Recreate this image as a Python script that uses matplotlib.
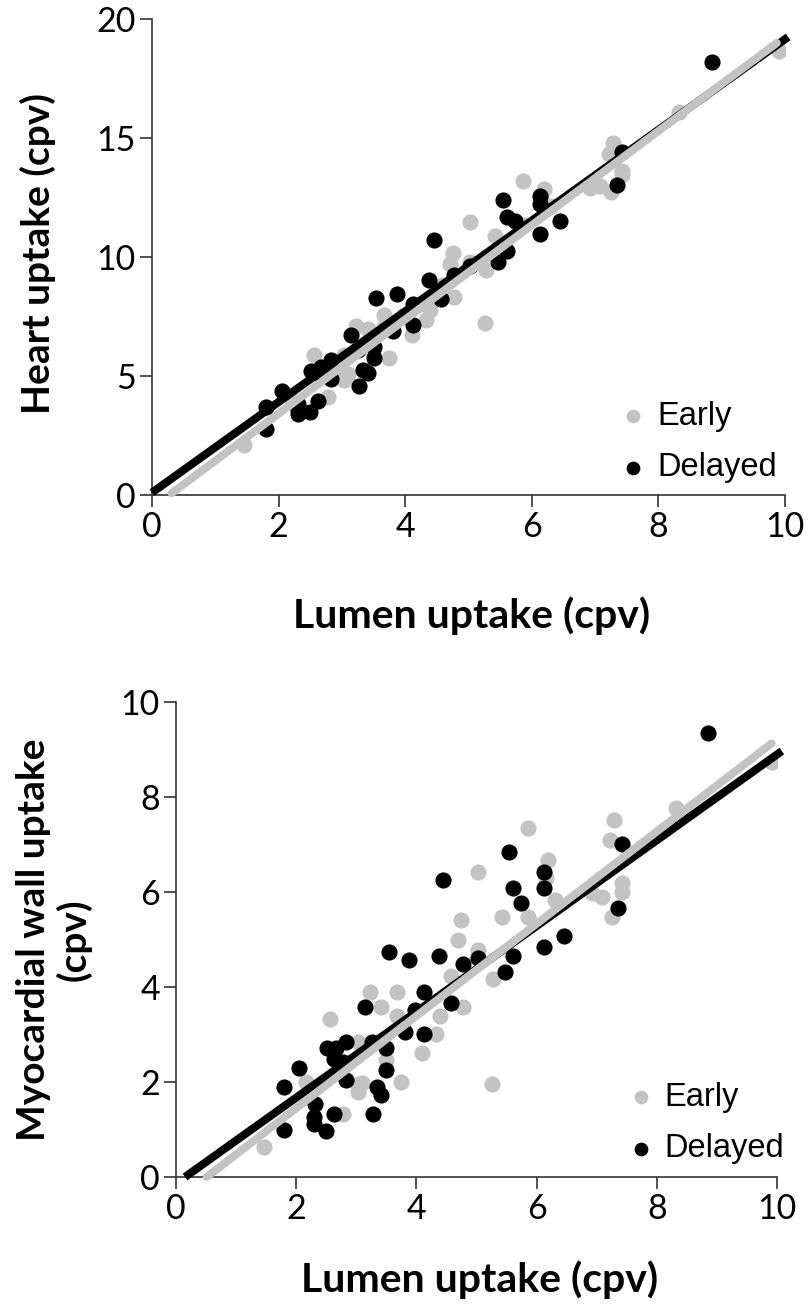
import numpy as np
import matplotlib.pyplot as plt

# lumen uptake (x) shared by both panels
early_lumen = [9.91, 8.32, 7.29, 7.22, 7.42, 7.42, 7.08, 6.92, 7.25, 5.86,
               5.03, 6.19, 6.15, 6.31, 5.42, 5.86, 4.75, 4.70, 5.03, 5.28,
               4.58, 3.22, 3.67, 3.41, 3.67, 4.77, 4.39, 2.56, 4.33, 3.03,
               3.49, 2.17, 3.03, 3.10, 3.03, 2.78, 1.46, 5.26, 4.10, 3.75]
early_heart = [18.65, 16.08, 14.81, 14.31, 13.60, 13.43, 12.98, 12.89, 12.73, 13.20,
               11.46, 12.86, 12.45, 12.14, 10.90, 11.34, 10.16, 9.69, 9.81, 9.44,
               8.82, 7.12, 7.57, 6.98, 7.07, 8.34, 7.79, 5.88, 7.34, 5.88,
               5.95, 4.18, 4.99, 5.07, 4.83, 4.10, 2.10, 7.21, 6.72, 5.75]
early_wall = [8.74, 7.76, 7.52, 7.09, 6.18, 6.01, 5.90, 5.97, 5.48, 7.34,
              6.43, 6.67, 6.30, 5.83, 5.48, 5.48, 5.41, 4.99, 4.78, 4.16,
              4.24, 3.90, 3.90, 3.57, 3.40, 3.57, 3.40, 3.32, 3.01, 2.85,
              2.46, 2.01, 1.96, 1.97, 1.80, 1.32, 0.64, 1.95, 2.62, 2.00]

delayed_lumen = [8.85, 7.42, 7.35, 6.45, 6.13, 6.13, 6.13, 5.54, 5.61, 5.74,
                 5.61, 5.47, 4.45, 5.03, 4.77, 4.38, 3.87, 3.54, 4.57, 4.12,
                 3.98, 3.14, 3.81, 4.12, 2.51, 2.67, 2.83, 3.26, 2.63, 2.78,
                 3.50, 3.50, 2.05, 2.83, 1.80, 3.34, 3.41, 2.31, 2.30, 2.30,
                 2.50, 2.63, 3.27, 1.80]
delayed_heart = [18.19, 14.43, 13.01, 11.52, 12.56, 12.21, 10.98, 12.38, 11.69, 11.50,
                 10.27, 9.79, 10.70, 9.64, 9.25, 9.04, 8.44, 8.28, 8.23, 8.02,
                 7.50, 6.71, 6.87, 7.13, 5.23, 5.38, 5.68, 6.11, 5.11, 5.21,
                 6.21, 5.75, 4.35, 4.87, 3.70, 5.24, 5.14, 3.84, 3.56, 3.42,
                 3.47, 3.95, 4.59, 2.79]
delayed_wall = [9.34, 7.01, 5.66, 5.07, 6.43, 6.08, 4.85, 6.84, 6.08, 5.76,
                4.66, 4.32, 6.25, 4.61, 4.48, 4.66, 4.57, 4.74, 3.66, 3.90,
                3.52, 3.57, 3.06, 3.01, 2.72, 2.71, 2.85, 2.85, 2.48, 2.43,
                2.71, 2.25, 2.30, 2.04, 1.90, 1.90, 1.73, 1.53, 1.26, 1.12,
                0.97, 1.32, 1.32, 0.99]

# regression lines: (x start, x end, slope, intercept)
heart_early_fit = (0.31, 9.87, 1.979, -0.54)
heart_delayed_fit = (0.0, 10.05, 1.905, 0.1)
wall_early_fit = (0.51, 9.91, 0.971, -0.495)
wall_delayed_fit = (0.15, 10.08, 0.903, -0.135)

GREY = '#c3c3c3'
AX_COL = '#333333'
TICK_FONT = 'Lato'
LEG_FONT = 'Liberation Sans'


def fit_line(ax, fit, color, zorder, cap):
    x0, x1, m, b = fit
    xs = np.array([x0, x1])
    ax.plot(xs, m * xs + b, color=color, lw=5.8, zorder=zorder,
            solid_capstyle=cap, clip_on=False)


def style(ax, xlim, ylim, yticks):
    ax.set_xlim(*xlim)
    ax.set_ylim(*ylim)
    ax.set_xticks([0, 2, 4, 6, 8, 10])
    ax.set_yticks(yticks)
    for s in ['top', 'right']:
        ax.spines[s].set_visible(False)
    for s in ['left', 'bottom']:
        ax.spines[s].set_color(AX_COL)
        ax.spines[s].set_linewidth(1.2)
    ax.tick_params(direction='out', length=8.6, width=1.2, color=AX_COL,
                   labelsize=24.5, pad=3)
    for lab in ax.get_xticklabels() + ax.get_yticklabels():
        lab.set_fontfamily(TICK_FONT)


def panel(ax, e_y, d_y, e_fit, d_fit, xlim, ylim, yticks, leg_anchor):
    ax.scatter(early_lumen, e_y, s=135, color=GREY, lw=0, zorder=2, label='Early')
    ax.scatter(delayed_lumen, d_y, s=135, color='black', lw=0, zorder=2.5,
               label='Delayed')
    fit_line(ax, d_fit, 'black', 3, 'butt')
    fit_line(ax, e_fit, GREY, 3.5, 'round')
    style(ax, xlim, ylim, yticks)
    ax.legend(loc='lower left', bbox_to_anchor=leg_anchor, frameon=False,
              prop={'family': LEG_FONT, 'size': 23.5}, handletextpad=0.15,
              labelspacing=0.62, borderaxespad=0, borderpad=0,
              handlelength=1.15, markerscale=0.85)


fig = plt.figure(figsize=(8.12, 13.06), dpi=100)
ax1 = fig.add_axes([152 / 812, 1 - 495 / 1306, 633 / 812, 476 / 1306])
ax2 = fig.add_axes([176 / 812, 1 - 1177 / 1306, 601 / 812, 475 / 1306])

panel(ax1, early_heart, delayed_heart, heart_early_fit, heart_delayed_fit,
      (0, 10), (0, 20), [0, 5, 10, 15, 20], (0.731, 0.025))
panel(ax2, early_wall, delayed_wall, wall_early_fit, wall_delayed_fit,
      (0, 10), (0, 10), [0, 2, 4, 6, 8, 10], (0.742, 0.027))

lab = dict(fontsize=28, fontweight='bold', family=TICK_FONT, ha='center', va='center')
fig.text(472 / 812, 1 - 616 / 1306, 'Lumen uptake (cpv)', size=29.5,
         **{k: v for k, v in lab.items() if k != 'fontsize'})
fig.text(480 / 812, 1 - 1280 / 1306, 'Lumen uptake (cpv)', size=29.5,
         **{k: v for k, v in lab.items() if k != 'fontsize'})
fig.text(38 / 812, 1 - 254 / 1306, 'Heart uptake (cpv)', rotation=90, **lab)
fig.text(54 / 812, 1 - 940 / 1306, 'Myocardial wall uptake\n(cpv)', rotation=90,
         multialignment='center', linespacing=1.15, **lab)

fig.savefig('out.png', dpi=100)
